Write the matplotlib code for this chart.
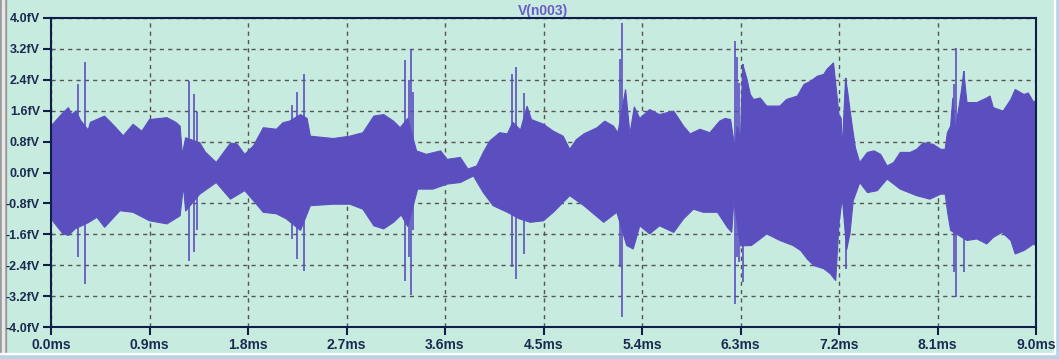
import matplotlib.pyplot as plt
import matplotlib.patches as mpatches
import numpy as np

# upper envelope of V(n003): time (ms), value
up_t = [0.00, 0.11, 0.16, 0.19, 0.23, 0.27, 0.34, 0.36, 0.49, 0.58, 0.66, 0.75, 0.83, 0.90,
        1.06, 1.14, 1.18, 1.20, 1.23, 1.36, 1.41, 1.51, 1.64, 1.70, 1.77, 1.85, 1.94, 2.06,
        2.12, 2.18, 2.28, 2.34, 2.37, 2.58, 2.73, 2.85, 2.95, 3.04, 3.13, 3.19, 3.26, 3.34,
        3.43, 3.56, 3.62, 3.74, 3.81, 3.89, 3.95, 4.01, 4.10, 4.17, 4.22, 4.29, 4.35, 4.39,
        4.50, 4.59, 4.68, 4.74, 4.80, 4.87, 4.99, 5.06, 5.14, 5.18, 5.21, 5.25, 5.29, 5.33,
        5.38, 5.47, 5.56, 5.69, 5.78, 5.84, 5.93, 6.02, 6.11, 6.16, 6.21, 6.25, 6.27, 6.30,
        6.32, 6.36, 6.39, 6.42, 6.48, 6.54, 6.66, 6.72, 6.82, 6.88, 6.94, 7.00, 7.06, 7.09,
        7.15, 7.20, 7.22, 7.23, 7.26, 7.28, 7.30, 7.33, 7.35, 7.39, 7.46, 7.52, 7.58, 7.64,
        7.70, 7.76, 7.85, 7.91, 7.97, 8.06, 8.13, 8.17, 8.19, 8.22, 8.24, 8.26, 8.30, 8.32,
        8.34, 8.36, 8.37, 8.46, 8.55, 8.58, 8.61, 8.70, 8.77, 8.81, 8.89, 8.93, 8.98, 9.00]
up_v = [1.20, 1.55, 1.68, 1.50, 1.60, 1.35, 1.10, 1.30, 1.46, 1.20, 0.95, 1.25, 1.07, 1.37,
        1.42, 1.30, 1.20, 0.47, 0.90, 0.77, 0.53, 0.26, 0.76, 0.74, 0.47, 0.69, 1.16, 1.12,
        1.29, 1.33, 1.50, 1.40, 0.94, 0.88, 0.94, 1.03, 1.46, 1.50, 1.33, 1.16, 1.40, 0.56,
        0.47, 0.56, 0.34, 0.39, 0.09, 0.17, 0.52, 0.82, 1.03, 1.00, 1.30, 1.10, 1.72, 1.37,
        1.25, 1.07, 0.94, 0.60, 0.85, 1.00, 1.16, 1.33, 1.20, 1.03, 1.50, 2.15, 1.00, 1.70,
        1.40, 1.63, 1.50, 1.59, 1.20, 1.00, 1.12, 1.03, 1.33, 1.40, 1.37, 0.60, 1.20, 0.90,
        2.81, 2.41, 2.02, 1.89, 1.93, 1.72, 1.72, 1.89, 1.98, 2.28, 2.36, 2.49, 2.54, 2.67,
        2.84, 1.50, 1.40, 0.60, 2.45, 2.08, 1.63, 1.03, 0.64, 0.26, 0.52, 0.56, 0.47, 0.17,
        0.26, 0.52, 0.52, 0.60, 0.77, 0.73, 0.60, 0.60, 1.03, 1.20, 1.93, 1.10, 1.76, 2.15,
        2.62, 2.06, 1.81, 1.81, 1.93, 1.98, 1.68, 1.59, 1.89, 2.15, 2.02, 2.06, 1.81, 1.89]

# lower envelope
lo_t = [0.00, 0.11, 0.16, 0.22, 0.34, 0.42, 0.49, 0.63, 0.75, 0.90, 1.06, 1.18, 1.21, 1.23,
        1.36, 1.51, 1.64, 1.77, 1.85, 1.94, 2.06, 2.15, 2.28, 2.37, 2.58, 2.73, 2.85, 2.95,
        3.04, 3.13, 3.20, 3.26, 3.35, 3.49, 3.62, 3.74, 3.86, 3.95, 4.04, 4.17, 4.28, 4.38,
        4.50, 4.59, 4.74, 4.87, 5.05, 5.17, 5.26, 5.32, 5.38, 5.47, 5.56, 5.69, 5.78, 5.87,
        5.96, 6.09, 6.18, 6.22, 6.24, 6.30, 6.40, 6.48, 6.54, 6.66, 6.78, 6.85, 6.91, 6.97,
        7.06, 7.12, 7.17, 7.20, 7.23, 7.27, 7.30, 7.33, 7.39, 7.46, 7.55, 7.64, 7.76, 7.91,
        8.03, 8.13, 8.17, 8.19, 8.22, 8.37, 8.46, 8.55, 8.61, 8.69, 8.77, 8.81, 8.89, 8.98, 9.00]
lo_v = [-1.20, -1.59, -1.63, -1.46, -1.30, -1.16, -1.42, -0.99, -1.03, -1.25, -1.33, -1.12, -0.34, -1.00,
        -0.56, -0.26, -0.69, -0.47, -0.73, -1.03, -1.07, -1.20, -1.50, -0.86, -0.82, -0.82, -0.95, -1.38,
        -1.46, -1.29, -1.10, -1.40, -0.43, -0.43, -0.30, -0.26, -0.09, -0.52, -0.86, -1.03, -1.20, -1.29,
        -1.25, -1.03, -0.60, -0.86, -1.29, -1.03, -1.89, -1.98, -1.38, -1.59, -1.38, -1.55, -1.20, -0.95,
        -1.03, -1.03, -1.42, -1.55, -0.70, -1.90, -1.89, -1.72, -1.59, -1.76, -1.89, -2.02, -2.24, -2.41,
        -2.49, -2.62, -2.80, -1.33, -0.65, -2.00, -1.59, -0.73, -0.26, -0.52, -0.47, -0.17, -0.43, -0.60,
        -0.69, -0.56, -0.56, -0.99, -1.50, -1.76, -1.72, -1.85, -1.68, -1.55, -1.76, -2.11, -2.02, -1.85, -1.90]

# narrow spikes: time, top, bottom
spike_t = [0.25, 0.31, 1.26, 1.31, 1.33, 2.20, 2.25, 2.31, 3.23, 3.27, 3.29, 3.31,
           4.21, 4.25, 4.32, 5.20, 5.22, 6.25, 6.27, 6.29, 6.32, 7.26, 8.25, 8.27, 8.34]
spike_top = [2.28, 2.87, 2.36, 2.02, 1.57, 1.74, 2.08, 2.54, 2.90, 2.40, 3.20, 2.08,
             2.54, 2.72, 2.06, 2.94, 3.87, 3.41, 3.00, 2.32, 2.81, 2.45, 2.28, 3.22, 2.62]
spike_bot = [-2.19, -2.88, -2.28, -2.06, -1.50, -1.72, -2.24, -2.54, -2.80, -2.19, -3.18, -1.50,
             -2.45, -2.75, -2.11, -2.45, -3.74, -3.40, -2.20, -2.32, -2.84, -2.49, -2.58, -3.22, -2.58]

x_ticks = [0.0, 0.9, 1.8, 2.7, 3.6, 4.5, 5.4, 6.3, 7.2, 8.1, 9.0]
y_ticks = [-4.0, -3.2, -2.4, -1.6, -0.8, 0.0, 0.8, 1.6, 2.4, 3.2, 4.0]

bg = '#c8ebdf'
wave = '#5b4fc0'
navy = '#0f1f4a'

fig = plt.figure(figsize=(10.59, 3.59), dpi=100)
fig.patch.set_facecolor(bg)

ax = fig.add_axes([51/1059, 32/359, 985/1059, 309/359])
ax.set_facecolor(bg)

# grid sits under the trace
ax.grid(True, color='#555555', ls=(0, (3, 3)), lw=1, zorder=1)
ax.set_axisbelow(True)

ax.fill(np.concatenate([up_t, lo_t[::-1]]), np.concatenate([up_v, lo_v[::-1]]),
        color=wave, lw=0.8, zorder=2)
ax.vlines(spike_t, spike_bot, spike_top, color=wave, lw=1.2, zorder=2)

ax.set_xlim(0, 9.0)
ax.set_ylim(-4.0, 4.0)
ax.set_xticks(x_ticks)
ax.set_yticks(y_ticks)
ax.set_xticklabels(['%.1fms' % t for t in x_ticks])
ax.set_yticklabels(['%.1ffV' % v for v in y_ticks])

for s in ax.spines.values():
    s.set_color(navy)
    s.set_linewidth(1.5)
    s.set_zorder(4)

ax.tick_params(axis='both', colors=navy, length=6, width=1.5, direction='out', pad=2)
for lab in ax.get_xticklabels():
    lab.set_fontfamily('Liberation Sans')
    lab.set_fontweight('bold')
    lab.set_fontsize(10)
    lab.set_color('#1a2a50')
for lab in ax.get_yticklabels():
    lab.set_fontfamily('Liberation Sans')
    lab.set_fontweight('bold')
    lab.set_fontsize(9)
    lab.set_color('#1a2a50')

ax.set_title('V(n003)', color='#6a5cc8', fontsize=10, fontweight='bold',
             fontfamily='Liberation Sans', pad=2)

# window edges
fig.add_artist(mpatches.Rectangle((0, 0), 6/1059, 1, transform=fig.transFigure, color='#9a9a9a', zorder=-1))
fig.add_artist(mpatches.Rectangle((2/1059, 0), 2/1059, 1, transform=fig.transFigure, color='#e8e8e8', zorder=-1))
fig.add_artist(mpatches.Rectangle((0, 0), 1, 5/359, transform=fig.transFigure, color='#b8d2ea', zorder=-1))
fig.add_artist(mpatches.Rectangle((0, 5/359), 1, 1.5/359, transform=fig.transFigure, color='white', zorder=-1))
fig.add_artist(mpatches.Rectangle((1055/1059, 0), 4/1059, 1, transform=fig.transFigure, color='#b8d2ea', zorder=-1))
fig.add_artist(mpatches.Rectangle((1053.5/1059, 5/359), 1.5/1059, 1, transform=fig.transFigure, color='white', zorder=-1))

fig.savefig('out.png', dpi=100, facecolor=bg)
